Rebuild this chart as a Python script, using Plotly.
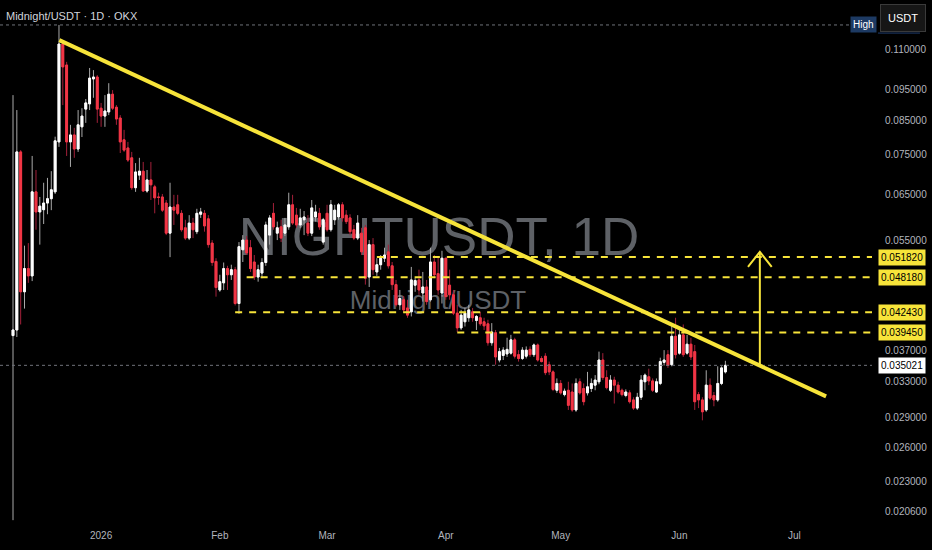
import numpy as np
import pandas as pd
import plotly.graph_objects as go

# ---------------- data ----------------
first_day = "2025-12-09"

opens = [0.0390, 0.0398, 0.0758, 0.0457, 0.0497, 0.0484, 0.0656, 0.0610, 0.0615, 0.0630,
         0.0640, 0.0656, 0.0786, 0.1120, 0.1038, 0.0786, 0.0806, 0.0766, 0.0830, 0.0885,
         0.0902, 0.0987, 0.0994, 0.0888, 0.0863, 0.0876, 0.0934, 0.0891, 0.0857, 0.0792,
         0.0769, 0.0742, 0.0666, 0.0697, 0.0707, 0.0658, 0.0685, 0.0668, 0.0644, 0.0644,
         0.0630, 0.0565, 0.0621, 0.0626, 0.0607, 0.0576, 0.0555, 0.0586, 0.0568, 0.0605,
         0.0607, 0.0595, 0.0545, 0.0510, 0.0460, 0.0472, 0.0497, 0.0486, 0.0495, 0.0438,
         0.0532, 0.0551, 0.0536, 0.0509, 0.0482, 0.0489, 0.0508, 0.0561, 0.0607, 0.0565,
         0.0578, 0.0565, 0.0578, 0.0626, 0.0603, 0.0582, 0.0593, 0.0586, 0.0565, 0.0599,
         0.0607, 0.0547, 0.0607, 0.0572, 0.0593, 0.0599, 0.0626, 0.0603, 0.0597, 0.0572,
         0.0555, 0.0565, 0.0576, 0.0482, 0.0542, 0.0491, 0.0504, 0.0516, 0.0528, 0.0502,
         0.0469, 0.0436, 0.0444, 0.0431, 0.0425, 0.0468, 0.0477, 0.0455, 0.0465, 0.0444,
         0.0509, 0.0488, 0.0455, 0.0516, 0.0468, 0.0452, 0.0423, 0.0401, 0.0410, 0.0416,
         0.0425, 0.0412, 0.0416, 0.0410, 0.0407, 0.0380, 0.0394, 0.0357, 0.0363, 0.0365,
         0.0366, 0.0384, 0.0364, 0.0359, 0.0362, 0.0371, 0.0364, 0.0377, 0.0359, 0.0362,
         0.0351, 0.0342, 0.0320, 0.0328, 0.0315, 0.0320, 0.0318, 0.0298, 0.0330, 0.0322,
         0.0317, 0.0322, 0.0326, 0.0330, 0.0357, 0.0335, 0.0320, 0.0332, 0.0326, 0.0320,
         0.0314, 0.0317, 0.0309, 0.0300, 0.0312, 0.0330, 0.0336, 0.0331, 0.0318, 0.0328,
         0.0354, 0.0364, 0.0351, 0.0389, 0.0366, 0.0391, 0.0366, 0.0378, 0.0368, 0.0315,
         0.0309, 0.0298, 0.0326, 0.0314, 0.0309, 0.0328, 0.0342]
highs = [0.0931, 0.0882, 0.0763, 0.0540, 0.0545, 0.0747, 0.0710, 0.0644, 0.0678, 0.0690,
         0.0707, 0.0801, 0.1200, 0.1136, 0.1050, 0.0836, 0.0827, 0.0882, 0.0888, 0.0918,
         0.1027, 0.1019, 0.1001, 0.0905, 0.0931, 0.0972, 0.0948, 0.0898, 0.0866, 0.0821,
         0.0786, 0.0758, 0.0728, 0.0742, 0.0731, 0.0710, 0.0731, 0.0673, 0.0654, 0.0651,
         0.0637, 0.0678, 0.0649, 0.0649, 0.0614, 0.0593, 0.0603, 0.0597, 0.0617, 0.0619,
         0.0614, 0.0603, 0.0551, 0.0516, 0.0486, 0.0508, 0.0502, 0.0504, 0.0500, 0.0547,
         0.0561, 0.0559, 0.0551, 0.0522, 0.0504, 0.0516, 0.0589, 0.0603, 0.0630, 0.0589,
         0.0593, 0.0597, 0.0654, 0.0649, 0.0619, 0.0617, 0.0612, 0.0603, 0.0637, 0.0626,
         0.0619, 0.0597, 0.0626, 0.0637, 0.0626, 0.0630, 0.0632, 0.0614, 0.0605, 0.0582,
         0.0603, 0.0576, 0.0582, 0.0551, 0.0555, 0.0516, 0.0522, 0.0536, 0.0542, 0.0509,
         0.0477, 0.0460, 0.0450, 0.0444, 0.0500, 0.0480, 0.0495, 0.0491, 0.0477, 0.0536,
         0.0522, 0.0518, 0.0530, 0.0516, 0.0495, 0.0460, 0.0436, 0.0428, 0.0431, 0.0436,
         0.0431, 0.0420, 0.0425, 0.0416, 0.0413, 0.0408, 0.0398, 0.0373, 0.0374, 0.0387,
         0.0391, 0.0387, 0.0370, 0.0374, 0.0375, 0.0375, 0.0379, 0.0379, 0.0362, 0.0366,
         0.0355, 0.0344, 0.0334, 0.0332, 0.0322, 0.0330, 0.0328, 0.0334, 0.0334, 0.0328,
         0.0342, 0.0334, 0.0338, 0.0368, 0.0366, 0.0344, 0.0338, 0.0336, 0.0330, 0.0322,
         0.0321, 0.0320, 0.0312, 0.0317, 0.0338, 0.0340, 0.0346, 0.0334, 0.0334, 0.0360,
         0.0370, 0.0370, 0.0408, 0.0416, 0.0398, 0.0406, 0.0391, 0.0387, 0.0377, 0.0318,
         0.0312, 0.0344, 0.0334, 0.0318, 0.0349, 0.0349, 0.0356]
lows = [0.0200, 0.0388, 0.0406, 0.0430, 0.0472, 0.0475, 0.0572, 0.0542, 0.0584, 0.0605,
        0.0614, 0.0651, 0.0772, 0.0898, 0.0747, 0.0718, 0.0742, 0.0758, 0.0800, 0.0842,
        0.0882, 0.0922, 0.0842, 0.0830, 0.0830, 0.0866, 0.0882, 0.0836, 0.0755, 0.0758,
        0.0731, 0.0661, 0.0656, 0.0685, 0.0656, 0.0654, 0.0637, 0.0607, 0.0626, 0.0610,
        0.0561, 0.0518, 0.0582, 0.0603, 0.0568, 0.0551, 0.0551, 0.0555, 0.0563, 0.0597,
        0.0568, 0.0536, 0.0502, 0.0449, 0.0457, 0.0460, 0.0460, 0.0477, 0.0435, 0.0422,
        0.0509, 0.0522, 0.0491, 0.0477, 0.0474, 0.0480, 0.0502, 0.0542, 0.0572, 0.0551,
        0.0547, 0.0559, 0.0572, 0.0582, 0.0576, 0.0576, 0.0561, 0.0559, 0.0559, 0.0589,
        0.0572, 0.0542, 0.0568, 0.0568, 0.0582, 0.0593, 0.0589, 0.0584, 0.0561, 0.0551,
        0.0551, 0.0522, 0.0469, 0.0465, 0.0486, 0.0484, 0.0495, 0.0509, 0.0497, 0.0460,
        0.0433, 0.0428, 0.0425, 0.0416, 0.0418, 0.0457, 0.0452, 0.0441, 0.0436, 0.0441,
        0.0480, 0.0452, 0.0438, 0.0444, 0.0444, 0.0420, 0.0395, 0.0398, 0.0403, 0.0410,
        0.0410, 0.0398, 0.0404, 0.0398, 0.0376, 0.0376, 0.0351, 0.0354, 0.0357, 0.0361,
        0.0364, 0.0359, 0.0355, 0.0357, 0.0359, 0.0361, 0.0361, 0.0355, 0.0354, 0.0338,
        0.0338, 0.0319, 0.0317, 0.0315, 0.0313, 0.0298, 0.0296, 0.0296, 0.0315, 0.0303,
        0.0314, 0.0318, 0.0320, 0.0327, 0.0332, 0.0321, 0.0318, 0.0305, 0.0316, 0.0313,
        0.0312, 0.0305, 0.0298, 0.0298, 0.0309, 0.0320, 0.0326, 0.0318, 0.0317, 0.0326,
        0.0350, 0.0347, 0.0349, 0.0359, 0.0364, 0.0361, 0.0364, 0.0357, 0.0298, 0.0300,
        0.0287, 0.0296, 0.0309, 0.0302, 0.0307, 0.0326, 0.0340]
closes = [0.0398, 0.0758, 0.0457, 0.0497, 0.0484, 0.0656, 0.0610, 0.0623, 0.0630, 0.0640,
          0.0661, 0.0789, 0.1120, 0.1031, 0.0786, 0.0806, 0.0766, 0.0836, 0.0863, 0.0905,
          0.0990, 0.0994, 0.0885, 0.0863, 0.0879, 0.0934, 0.0888, 0.0854, 0.0786, 0.0763,
          0.0736, 0.0666, 0.0705, 0.0707, 0.0658, 0.0685, 0.0673, 0.0642, 0.0643, 0.0614,
          0.0565, 0.0621, 0.0614, 0.0607, 0.0572, 0.0555, 0.0586, 0.0572, 0.0607, 0.0610,
          0.0580, 0.0542, 0.0508, 0.0464, 0.0474, 0.0497, 0.0486, 0.0495, 0.0438, 0.0538,
          0.0551, 0.0526, 0.0497, 0.0482, 0.0495, 0.0508, 0.0582, 0.0597, 0.0578, 0.0576,
          0.0555, 0.0582, 0.0626, 0.0586, 0.0582, 0.0597, 0.0599, 0.0565, 0.0619, 0.0610,
          0.0578, 0.0593, 0.0572, 0.0626, 0.0614, 0.0626, 0.0597, 0.0589, 0.0568, 0.0555,
          0.0586, 0.0528, 0.0480, 0.0542, 0.0495, 0.0504, 0.0516, 0.0522, 0.0502, 0.0469,
          0.0436, 0.0446, 0.0428, 0.0420, 0.0477, 0.0476, 0.0460, 0.0465, 0.0441, 0.0509,
          0.0486, 0.0460, 0.0516, 0.0449, 0.0452, 0.0423, 0.0401, 0.0420, 0.0423, 0.0428,
          0.0416, 0.0418, 0.0407, 0.0404, 0.0380, 0.0395, 0.0361, 0.0368, 0.0370, 0.0371,
          0.0384, 0.0362, 0.0359, 0.0370, 0.0370, 0.0364, 0.0377, 0.0357, 0.0355, 0.0341,
          0.0342, 0.0321, 0.0328, 0.0317, 0.0319, 0.0303, 0.0298, 0.0328, 0.0317, 0.0307,
          0.0324, 0.0328, 0.0332, 0.0357, 0.0335, 0.0323, 0.0332, 0.0326, 0.0318, 0.0315,
          0.0318, 0.0307, 0.0300, 0.0312, 0.0332, 0.0338, 0.0331, 0.0320, 0.0330, 0.0355,
          0.0357, 0.0350, 0.0389, 0.0364, 0.0391, 0.0364, 0.0378, 0.0361, 0.0307, 0.0309,
          0.0296, 0.0326, 0.0311, 0.0309, 0.0328, 0.0347, 0.035021]

# horizontal levels (price, first day drawn)
level_prices = [0.051820, 0.048180, 0.042430, 0.039450]
level_starts = ["2026-03-14", "2026-02-08", "2026-02-05", "2026-04-04"]

# descending trend line
trend_dates = ["2025-12-21 02:00", "2026-07-09 07:00"]
trend_prices = [0.1136, 0.0313]

# projected move arrow
arrow_date = "2026-06-22"
arrow_prices = [0.0350, 0.0528]

last_price = 0.035021
session_high = 0.1200

ytick_vals = [0.110, 0.095, 0.085, 0.075, 0.065, 0.055, 0.037, 0.033, 0.029, 0.026, 0.023, 0.0206]
ytick_text = ["0.110000", "0.095000", "0.085000", "0.075000", "0.065000", "0.055000",
              "0.037000", "0.033000", "0.029000", "0.026000", "0.023000", "0.020600"]
xtick_dates = ["2026-01-01", "2026-02-01", "2026-03-01", "2026-04-01", "2026-05-01",
               "2026-06-01", "2026-07-01"]
xtick_text = ["2026", "Feb", "Mar", "Apr", "May", "Jun", "Jul"]

x_range = ["2025-12-05 14:30", "2026-07-21 06:45"]
y_range = [0.019653, 0.13134]

# ---------------- styling ----------------
FONT = "Liberation Sans, Arial, sans-serif"
YELLOW = "#f7e43a"
AXIS_TXT = "#b2b5be"
WATERMARK = "#5e6166"

dates = pd.date_range(first_day, periods=len(closes), freq="D")
o = np.array(opens)
c = np.array(closes)
body_hi = np.maximum(o, c)
body_lo = np.minimum(o, c)

fig = go.Figure()

# wicks (full range, muted colours)
fig.add_trace(go.Candlestick(
    x=dates, open=opens, high=highs, low=lows, close=closes,
    increasing=dict(line=dict(color="#a9a9a9", width=1), fillcolor="#a9a9a9"),
    decreasing=dict(line=dict(color="#a3203a", width=1), fillcolor="#a3203a"),
    whiskerwidth=0, hoverinfo="skip", showlegend=False))
# bodies
fig.add_trace(go.Candlestick(
    x=dates, open=opens, high=body_hi, low=body_lo, close=closes,
    increasing=dict(line=dict(color="#ffffff", width=1), fillcolor="#ffffff"),
    decreasing=dict(line=dict(color="#f23645", width=1), fillcolor="#f23645"),
    whiskerwidth=0, hoverinfo="skip", showlegend=False))

# dotted reference lines: session high & last price
for lvl in (session_high, last_price):
    fig.add_trace(go.Scatter(x=x_range, y=[lvl, lvl], mode="lines",
                             line=dict(color="#6f727a", width=1, dash="dot"),
                             hoverinfo="skip", showlegend=False))

# dashed yellow levels
for p, s in zip(level_prices, level_starts):
    fig.add_trace(go.Scatter(x=[s, x_range[1]], y=[p, p], mode="lines",
                             line=dict(color=YELLOW, width=2, dash="7px,7px"),
                             hoverinfo="skip", showlegend=False))

# trend line
fig.add_trace(go.Scatter(x=trend_dates, y=trend_prices, mode="lines",
                         line=dict(color=YELLOW, width=4),
                         hoverinfo="skip", showlegend=False))

# arrow shaft + open head
head_days = pd.Timedelta(days=3.1)
head_ratio = 1.056
ad = pd.Timestamp(arrow_date)
fig.add_trace(go.Scatter(x=[ad, ad], y=arrow_prices, mode="lines",
                         line=dict(color=YELLOW, width=2),
                         hoverinfo="skip", showlegend=False))
fig.add_trace(go.Scatter(x=[ad - head_days, ad, ad + head_days],
                         y=[arrow_prices[1] / head_ratio, arrow_prices[1], arrow_prices[1] / head_ratio],
                         mode="lines", line=dict(color=YELLOW, width=2),
                         hoverinfo="skip", showlegend=False))

annotations = []
# level price badges on axis
for p in level_prices:
    annotations.append(dict(x=1, xref="paper", xanchor="left", xshift=6,
                            y=np.log10(p), yref="y", yanchor="middle",
                            text=f"{p:.6f}", showarrow=False,
                            bgcolor=YELLOW, borderpad=2,
                            font=dict(family=FONT, size=10, color="#000000")))
annotations.append(dict(x=1, xref="paper", xanchor="left", xshift=6,
                        y=np.log10(last_price), yref="y", yanchor="middle",
                        text=f"{last_price:.6f}", showarrow=False,
                        bgcolor="#ffffff", borderpad=2,
                        font=dict(family=FONT, size=10, color="#000000")))
annotations.append(dict(x=1, xref="paper", xanchor="right", xshift=5,
                        y=np.log10(session_high), yref="y", yanchor="middle",
                        text="High", showarrow=False, bgcolor="#1d3a63", borderpad=2,
                        font=dict(family=FONT, size=10, color="#ffffff")))
annotations.append(dict(x=1, xref="paper", xanchor="left", xshift=8,
                        y=1, yref="paper", yanchor="top", yshift=-4,
                        text="USDT", showarrow=False, bgcolor="#161616",
                        bordercolor="#3a3a3a", borderwidth=1, borderpad=7,
                        font=dict(family=FONT, size=11, color="#ffffff")))
annotations.append(dict(x=0, xref="paper", xanchor="left", xshift=4,
                        y=1, yref="paper", yanchor="top", yshift=-8,
                        text="Midnight/USDT · 1D · OKX", showarrow=False,
                        font=dict(family=FONT, size=11, color="#d1d4dc")))

shapes = [
    dict(type="rect", xref="paper", yref="paper", x0=0.2034, x1=0.8034, y0=0.5095, y1=0.6095,
         line=dict(width=0), fillcolor="rgba(0,0,0,0)", layer="below",
         label=dict(text="NIGHTUSDT, 1D", textposition="middle center",
                    font=dict(family=FONT, size=53, color=WATERMARK))),
    dict(type="rect", xref="paper", yref="paper", x0=0.3023, x1=0.7023, y0=0.4024, y1=0.4624,
         line=dict(width=0), fillcolor="rgba(0,0,0,0)", layer="below",
         label=dict(text="Midnight/USDT", textposition="middle center",
                    font=dict(family=FONT, size=26, color=WATERMARK))),
    # thin underline beneath the currency button
    dict(type="line", xref="paper", yref="paper", x0=1.0069, x1=1.055, y0=0.937, y1=0.937,
         line=dict(color="#1f3d6e", width=1)),
]

fig.update_layout(
    width=932, height=550,
    margin=dict(l=0, r=60, t=0, b=25),
    paper_bgcolor="#000000", plot_bgcolor="rgba(0,0,0,0)",
    showlegend=False,
    annotations=annotations, shapes=shapes,
    xaxis=dict(type="date", range=x_range, rangeslider=dict(visible=False),
               showgrid=False, zeroline=False, showline=False,
               tickvals=xtick_dates, ticktext=xtick_text,
               ticks="outside", ticklen=1, tickcolor="rgba(0,0,0,0)",
               tickfont=dict(family=FONT, size=10, color=AXIS_TXT)),
    yaxis=dict(type="log", side="right", range=[np.log10(y_range[0]), np.log10(y_range[1])],
               showgrid=False, zeroline=False, showline=False,
               tickvals=ytick_vals, ticktext=ytick_text,
               ticks="outside", ticklen=10, tickcolor="rgba(0,0,0,0)",
               tickfont=dict(family=FONT, size=10, color=AXIS_TXT)),
)

page_fix = ("document.documentElement.style.background='#000';"
            "document.body.style.margin='0';"
            "document.body.style.background='#000';")

fig.write_html("out.html", post_script=page_fix, config={"displayModeBar": False})
